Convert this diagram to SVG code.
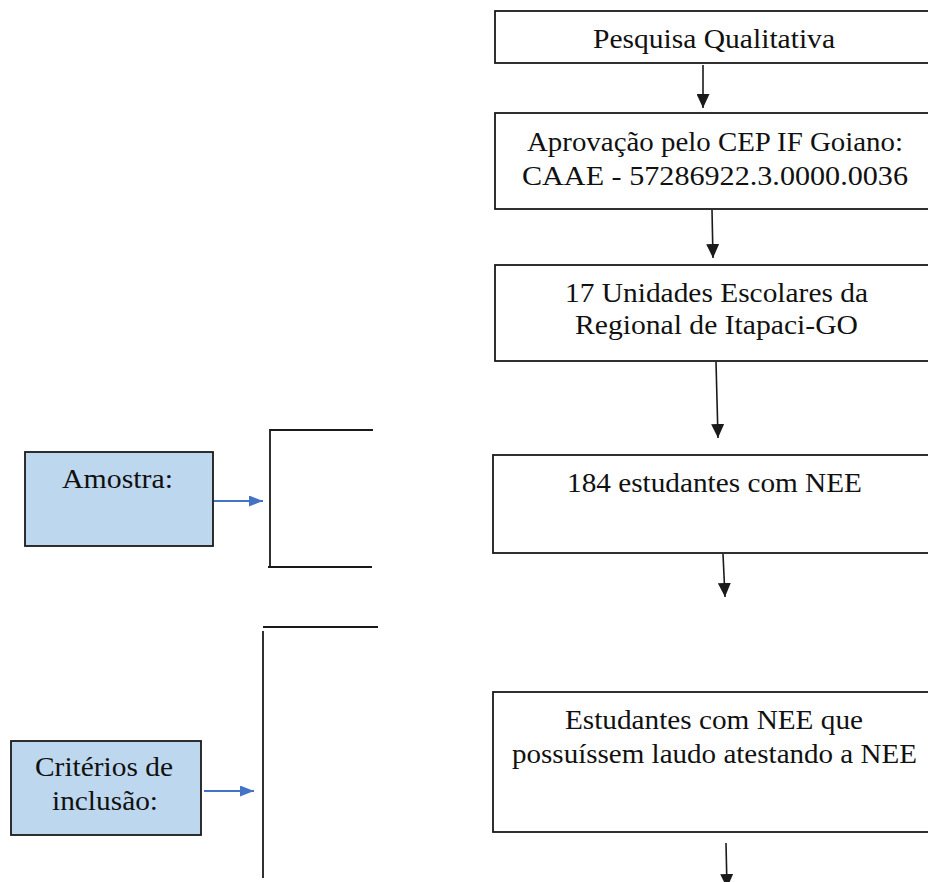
<svg xmlns="http://www.w3.org/2000/svg" width="928" height="882" viewBox="0 0 928 882">
  <style>
    .box { fill: #ffffff; stroke: #1a1a1a; stroke-width: 1.8; }
    .side { fill: #bdd7ee; stroke: #1a1a1a; stroke-width: 1.8; }
    .lbl { font-family: "Liberation Serif", "Times New Roman", serif; font-size: 27px; fill: #111111; }
    .flow { stroke: #1a1a1a; stroke-width: 1.6; fill: none; }
    .blue { stroke: #4472c4; stroke-width: 1.8; fill: none; }
    .brace { stroke: #1a1a1a; stroke-width: 1.8; fill: none; }
  </style>
  <defs>
    <marker id="headBlack" viewBox="0 0 10 10" refX="10" refY="5" markerWidth="14" markerHeight="13" markerUnits="userSpaceOnUse" orient="auto" preserveAspectRatio="none">
      <path d="M0,0 L10,5 L0,10 Z" fill="#1a1a1a"/>
    </marker>
    <marker id="headBlue" viewBox="0 0 10 10" refX="10" refY="5" markerWidth="14" markerHeight="11" markerUnits="userSpaceOnUse" orient="auto" preserveAspectRatio="none">
      <path d="M0,0 L10,5 L0,10 Z" fill="#4472c4"/>
    </marker>
  </defs>

  <g id="pesquisa">
    <rect class="box" x="495" y="11" width="450" height="52"/>
    <text class="lbl" x="593" y="48" textLength="242" lengthAdjust="spacingAndGlyphs">Pesquisa Qualitativa</text>
  </g>

  <g id="aprovacao">
    <rect class="box" x="495" y="113" width="450" height="96"/>
    <text class="lbl" x="527" y="151" textLength="376" lengthAdjust="spacingAndGlyphs">Aprovação pelo CEP IF Goiano:</text>
    <text class="lbl" x="522" y="185" textLength="386" lengthAdjust="spacingAndGlyphs">CAAE - 57286922.3.0000.0036</text>
  </g>

  <g id="unidades">
    <rect class="box" x="495" y="265" width="450" height="96"/>
    <text class="lbl" x="565" y="302" textLength="303" lengthAdjust="spacingAndGlyphs">17 Unidades Escolares da</text>
    <text class="lbl" x="575" y="334" textLength="283" lengthAdjust="spacingAndGlyphs">Regional de Itapaci-GO</text>
  </g>

  <g id="estudantes">
    <rect class="box" x="493" y="455" width="452" height="98"/>
    <text class="lbl" x="567" y="492" textLength="295" lengthAdjust="spacingAndGlyphs">184 estudantes com NEE</text>
  </g>

  <g id="laudo">
    <rect class="box" x="493" y="692" width="452" height="140"/>
    <text class="lbl" x="565" y="729" textLength="298" lengthAdjust="spacingAndGlyphs">Estudantes com NEE que</text>
    <text class="lbl" x="512" y="763" textLength="405" lengthAdjust="spacingAndGlyphs">possuíssem laudo atestando a NEE</text>
  </g>

  <g id="amostra">
    <rect class="side" x="25" y="452" width="188" height="94"/>
    <text class="lbl" x="62" y="488" textLength="111" lengthAdjust="spacingAndGlyphs">Amostra:</text>
  </g>

  <g id="criterios">
    <rect class="side" x="11" y="741" width="190" height="94"/>
    <text class="lbl" x="35" y="776" textLength="138" lengthAdjust="spacingAndGlyphs">Critérios de</text>
    <text class="lbl" x="52" y="810" textLength="106" lengthAdjust="spacingAndGlyphs">inclusão:</text>
  </g>

  <g id="brackets">
    <path class="brace" d="M373,430 H270 V567"/>
    <path class="brace" d="M268,567 H372"/>
    <path class="brace" d="M378,627 H263"/>
    <path class="brace" d="M263,631 V878"/>
  </g>

  <g id="connectors">
    <line class="flow" x1="703" y1="65" x2="703" y2="108" marker-end="url(#headBlack)"/>
    <line class="flow" x1="712" y1="210" x2="713" y2="258" marker-end="url(#headBlack)"/>
    <line class="flow" x1="716" y1="362" x2="718" y2="438" marker-end="url(#headBlack)"/>
    <line class="flow" x1="723" y1="554" x2="725" y2="597" marker-end="url(#headBlack)"/>
    <line class="flow" x1="726" y1="843" x2="727" y2="888" marker-end="url(#headBlack)"/>
    <line class="blue" x1="214" y1="501" x2="263" y2="501" marker-end="url(#headBlue)"/>
    <line class="blue" x1="204" y1="791" x2="254" y2="791" marker-end="url(#headBlue)"/>
  </g>
</svg>
